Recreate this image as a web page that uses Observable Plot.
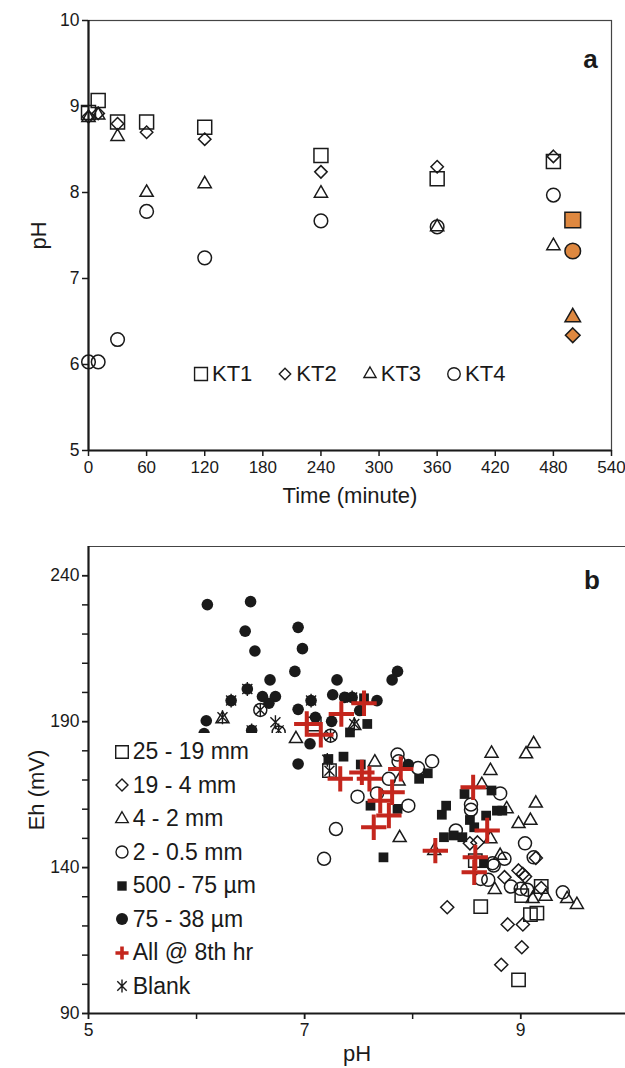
<!DOCTYPE html>
<html>
<head>
<meta charset="utf-8">
<script src="https://cdn.jsdelivr.net/npm/d3@7"></script>
<script src="https://cdn.jsdelivr.net/npm/@observablehq/plot@0.6"></script>
<style>
  html, body { margin: 0; padding: 0; background: #fff; }
  #wrap { position: relative; width: 625px; height: 1068px; overflow: hidden;
          font-family: "Liberation Sans", Arial, sans-serif; color: #1a1a1a; }
  #panelA, #panelB { position: absolute; left: 0; }
  #panelA { top: 0; }
  #panelB { top: 510px; }
  #legA { position: absolute; left: 192px; top: 361px; display: flex; gap: 24px; font-size: 22px; line-height: 26px; }
  #legA .item, #legB .item { display: flex; align-items: center; white-space: nowrap; }
  #legB { position: absolute; left: 100px; top: 733px; width: 188px; height: 270px; background: #fff;
          font-size: 23px; padding-top: 2px; box-sizing: border-box; }
  #legB .item { height: 33.5px; padding-left: 10.7px; }
  svg.sym { overflow: visible; display: block; }
</style>
</head>
<body>
<div id="wrap">
  <div id="panelA"></div>
  <div id="panelB"></div>
  <div id="legA"></div>
  <div id="legB"></div>
</div>
<script>
// ---------------- Panel a data ----------------
const timesA = [0, 10, 30, 60, 120, 240, 360, 480];
const seriesA = ["KT1", "KT2", "KT3", "KT4"];
const pH_KT1 = [8.93, 9.07, 8.82, 8.82, 8.76, 8.43, 8.16, 8.36];
const pH_KT2 = [8.88, 8.92, 8.80, 8.70, 8.62, 8.24, 8.30, 8.42];
const pH_KT3 = [8.87, 8.90, 8.65, 8.00, 8.10, 7.99, 7.60, 7.38];
const pH_KT4 = [6.03, 6.03, 6.29, 7.78, 7.24, 7.67, 7.60, 7.97];
const finalTime = 500;
const finalPH = [7.68, 6.34, 6.55, 7.32]; // KT1..KT4 (orange)
const xTicksA = [0, 60, 120, 180, 240, 300, 360, 420, 480, 540];
const yTicksA = [5, 6, 7, 8, 9, 10];

// ---------------- Panel b data ([pH, Eh mV]) ----------------
const b25_19mm = [[7.09,189.2],[7.23,173.2],[8.58,142.4],[8.63,126.6],[9.01,130.4],[9.19,133.5],[9.09,123.9],[9.15,124.4],[8.98,101.5]];
const b19_4mm = [[8.53,148.3],[8.60,148.6],[8.32,126.4],[8.88,120.5],[9.02,120.5],[9.01,112.7],[8.82,106.7],[8.98,139.0],[9.02,137.8],[9.04,136.9],[8.85,136.7],[9.14,143.3],[9.19,133.0]];
const b4_2mm = [[7.65,176.1],[7.88,150.2],[7.87,169.6],[7.46,188.6],[8.73,179.1],[8.72,173.2],[8.64,168.4],[9.12,182.4],[9.05,178.9],[9.14,162.0],[8.87,160.1],[8.98,155.0],[9.09,156.1],[8.72,149.8],[8.81,144.1],[6.92,184.1],[6.24,190.9],[8.20,145.8],[8.76,132.4],[9.11,129.3],[9.23,130.1],[9.43,129.3],[9.52,127.3]];
const b2_05mm = [[7.86,178.7],[8.18,176.4],[8.05,174.1],[7.78,170.4],[7.67,165.4],[7.49,164.3],[7.96,161.2],[7.29,153.2],[7.18,143.0],[8.81,165.4],[8.54,161.6],[8.54,159.8],[8.40,152.7],[9.04,148.3],[9.12,143.5],[8.85,143.0],[8.75,140.7],[8.74,141.5],[8.63,136.1],[8.70,135.8],[8.91,133.5],[9.00,132.7],[9.06,132.4],[9.39,131.5],[6.59,194.0],[6.76,186.3],[7.24,185.2],[7.87,176.4]];
const b500_75um = [[7.58,189.2],[7.42,186.3],[7.36,178.0],[7.22,177.2],[7.52,175.3],[8.06,170.4],[8.14,172.3],[7.86,160.1],[7.61,161.2],[7.73,143.5],[8.31,161.2],[8.27,158.1],[8.48,165.2],[8.73,166.4],[8.53,156.3],[8.68,157.8],[8.78,159.5],[8.83,159.5],[8.57,153.8],[8.29,150.4],[8.38,151.0],[8.46,150.4],[8.66,141.5],[7.55,198.0]];
const b75_38um = [[6.10,230.1],[6.50,231.1],[6.45,221.0],[6.94,222.3],[6.54,214.2],[6.98,215.0],[6.91,207.2],[6.68,204.3],[7.30,204.3],[6.47,201.2],[6.32,197.2],[6.61,198.6],[6.73,198.6],[6.67,196.3],[7.26,199.2],[7.37,198.3],[7.44,198.3],[7.06,197.2],[6.94,194.2],[6.09,190.3],[6.07,185.9],[7.10,191.5],[7.25,190.1],[7.05,182.4],[6.94,175.5],[7.51,193.8],[7.67,197.2],[7.86,207.2],[7.81,204.3],[7.96,175.3],[6.51,187.0]];
const bAll8hr = [[7.55,196.3],[7.34,192.6],[7.02,189.2],[7.15,185.5],[7.33,170.4],[7.53,172.6],[7.60,170.4],[7.89,173.8],[7.70,162.9],[7.81,165.8],[7.78,157.8],[7.64,153.8],[8.56,167.5],[8.69,152.7],[8.21,145.8],[8.58,143.5],[8.57,138.4]];
const bBlank = [[6.32,197.2],[6.47,201.2],[6.24,191.5],[6.51,187.0],[6.59,194.0],[6.73,189.8],[6.76,187.0],[7.06,197.2],[7.24,185.2],[7.23,173.2],[7.21,176.9],[7.44,198.3],[7.46,189.2]];
const legendB = ["25 - 19 mm", "19 - 4 mm", "4 - 2 mm", "2 - 0.5 mm", "500 - 75 µm", "75 - 38 µm", "All @ 8th hr", "Blank"];
const xTicksBMajor = [5, 7, 9];
const xTicksBMinor = [5, 6, 7, 8, 9];
const yTicksBMajor = [90, 140, 190, 240];
const yTicksBMinor = d3.range(90, 241, 10);

// ---------------- styles ----------------
const INK = "#1a1a1a";
const ORANGE = "#de8840";
const RED = "#c4261d";
const FONT = "'Liberation Sans', Arial, sans-serif";
const fmtInt = d3.format("d");

// "Blank" marker: vertical bar plus an X
const blankSymbol = {
  draw(ctx, size) {
    const r = Math.sqrt(size) * 0.56;
    const a = r * 0.72;
    ctx.moveTo(0, -r); ctx.lineTo(0, r);
    ctx.moveTo(-a, -a); ctx.lineTo(a, a);
    ctx.moveTo(-a, a); ctx.lineTo(a, -a);
  }
};

const symA = [
  {symbol: "square2", r: 8.9},
  {symbol: "diamond2", r: 5.6},
  {symbol: "triangle2", r: 6.3},
  {symbol: "circle", r: 6.8}
];
const symAFinal = [
  {symbol: "square2", r: 10},
  {symbol: "diamond2", r: 6.6},
  {symbol: "triangle2", r: 7.4},
  {symbol: "circle", r: 7.8}
];
const valuesA = [pH_KT1, pH_KT2, pH_KT3, pH_KT4];

const rowsA = seriesA.map((s, i) => timesA.map((t, j) => ({series: s, t, pH: valuesA[i][j]})));
const finalRows = seriesA.map((s, i) => ({series: s, t: finalTime, pH: finalPH[i]}));

const plotA = Plot.plot({
  width: 625, height: 510,
  marginLeft: 88, marginRight: 14, marginTop: 20, marginBottom: 60,
  style: {fontFamily: FONT, fontSize: "17px", color: INK, background: "transparent", overflow: "visible"},
  x: {domain: [0, 540]},
  y: {domain: [5, 10]},
  marks: [
    Plot.frame({stroke: "#444", strokeWidth: 1.2}),
    Plot.ruleX([0], {stroke: INK, strokeWidth: 2.2}),
    Plot.ruleY([5], {stroke: INK, strokeWidth: 2.2}),
    Plot.axisX({ticks: xTicksA, tickFormat: fmtInt, tickSize: 6, tickPadding: 4, fontSize: 17, label: null, strokeWidth: 1.5}),
    Plot.axisY({ticks: yTicksA, tickFormat: fmtInt, tickSize: 6, tickPadding: 3, fontSize: 17.5, label: null, strokeWidth: 1.5}),
    ...rowsA.map((rows, i) => Plot.dot(rows, {x: "t", y: "pH", symbol: symA[i].symbol, r: symA[i].r,
        stroke: INK, strokeWidth: 1.5, fill: "none"})),
    ...finalRows.map((row, i) => Plot.dot([row], {x: "t", y: "pH", symbol: symAFinal[i].symbol, r: symAFinal[i].r,
        stroke: INK, strokeWidth: 1.5, fill: ORANGE})),
    Plot.text(["Time (minute)"], {frameAnchor: "bottom", textAnchor: "middle", lineAnchor: "middle", dy: 45, fontSize: 22, fill: INK}),
    Plot.text(["pH"], {frameAnchor: "left", textAnchor: "middle", lineAnchor: "middle", dx: -50, rotate: -90, fontSize: 22, fill: INK}),
    Plot.text(["a"], {frameAnchor: "top-right", textAnchor: "middle", lineAnchor: "middle", dx: -21, dy: 39, fontSize: 26, fontWeight: "bold", fill: INK})
  ]
});
document.getElementById("panelA").appendChild(plotA);

// ---------------- Panel b ----------------
const toRows = arr => arr.map(([pH, eh]) => ({pH, eh}));
const catsB = [
  {data: b25_19mm, symbol: "square2", r: 8.5, stroke: INK, fill: "none", sw: 1.5},
  {data: b19_4mm, symbol: "diamond2", r: 5.9, stroke: INK, fill: "none", sw: 1.5},
  {data: b4_2mm, symbol: "triangle2", r: 6.2, stroke: INK, fill: "none", sw: 1.5},
  {data: b2_05mm, symbol: "circle", r: 6.5, stroke: INK, fill: "none", sw: 1.5},
  {data: b500_75um, symbol: "square", r: 5.5, stroke: "none", fill: INK, sw: 0},
  {data: b75_38um, symbol: "circle", r: 5.8, stroke: "none", fill: INK, sw: 0},
  {data: bBlank, symbol: blankSymbol, r: 7, stroke: INK, fill: "none", sw: 1.4},
  {data: bAll8hr, symbol: "plus", r: 8.2, stroke: RED, fill: "none", sw: 4}
];

const plotB = Plot.plot({
  width: 625, height: 558,
  marginLeft: 88, marginRight: 0, marginTop: 36, marginBottom: 55,
  style: {fontFamily: FONT, fontSize: "17.5px", color: INK, background: "transparent", overflow: "visible"},
  x: {domain: [5, 9.97]},
  y: {domain: [90, 250]},
  marks: [
    Plot.ruleY([250], {stroke: "#444", strokeWidth: 1.2}),
    Plot.ruleX([5], {stroke: INK, strokeWidth: 2.2}),
    Plot.ruleY([90], {stroke: INK, strokeWidth: 2.2}),
    Plot.axisX({ticks: xTicksBMinor, tickSize: 6, tickFormat: () => "", label: null, strokeWidth: 1.5}),
    Plot.axisX({ticks: xTicksBMajor, tickFormat: fmtInt, tickSize: 6, tickPadding: 4, fontSize: 17.5, label: null, strokeWidth: 1.5}),
    Plot.axisY({ticks: yTicksBMinor, tickSize: 6, tickFormat: () => "", label: null, strokeWidth: 1.5}),
    Plot.axisY({ticks: yTicksBMajor, tickFormat: fmtInt, tickSize: 6, tickPadding: 3, fontSize: 17.5, label: null, strokeWidth: 1.5}),
    ...catsB.map(c => Plot.dot(toRows(c.data), {x: "pH", y: "eh", symbol: c.symbol, r: c.r,
        stroke: c.stroke, fill: c.fill, strokeWidth: c.sw})),
    Plot.text(["pH"], {frameAnchor: "bottom", textAnchor: "middle", lineAnchor: "middle", dy: 40, fontSize: 22, fill: INK}),
    Plot.text(["Eh (mV)"], {frameAnchor: "left", textAnchor: "middle", lineAnchor: "middle", dx: -52, dy: 10, rotate: -90, fontSize: 22, fill: INK}),
    Plot.text(["b"], {frameAnchor: "top-right", textAnchor: "middle", lineAnchor: "middle", dx: -33.5, dy: 34, fontSize: 26, fontWeight: "bold", fill: INK})
  ]
});
document.getElementById("panelB").appendChild(plotB);

// ---------------- Legends (HTML with d3 symbols) ----------------
const d3sym = {
  square2: d3.symbolSquare2, diamond2: d3.symbolDiamond2, triangle2: d3.symbolTriangle2,
  circle: d3.symbolCircle, square: d3.symbolSquare, plus: d3.symbolPlus, blank: blankSymbol
};
function symSvg(symbol, r, stroke, fill, sw, w) {
  const path = d3.symbol(d3sym[symbol], Math.PI * r * r)();
  const ns = "http://www.w3.org/2000/svg";
  const svg = document.createElementNS(ns, "svg");
  svg.setAttribute("class", "sym");
  svg.setAttribute("width", w); svg.setAttribute("height", 20);
  const p = document.createElementNS(ns, "path");
  p.setAttribute("d", path);
  p.setAttribute("transform", `translate(${w / 2},10)`);
  p.setAttribute("stroke", stroke); p.setAttribute("fill", fill); p.setAttribute("stroke-width", sw);
  svg.appendChild(p);
  return svg;
}
const legA = document.getElementById("legA");
seriesA.forEach((s, i) => {
  const it = document.createElement("div"); it.className = "item";
  it.appendChild(symSvg(symA[i].symbol, symA[i].r * 0.92, INK, "none", 1.4, 18));
  const t = document.createElement("span"); t.textContent = s; t.style.marginLeft = "2px";
  it.appendChild(t); legA.appendChild(it);
});
const legSymB = [
  {symbol: "square2", r: 8.0, stroke: INK, fill: "none", sw: 1.4},
  {symbol: "diamond2", r: 5.4, stroke: INK, fill: "none", sw: 1.4},
  {symbol: "triangle2", r: 6.0, stroke: INK, fill: "none", sw: 1.4},
  {symbol: "circle", r: 6.0, stroke: INK, fill: "none", sw: 1.4},
  {symbol: "square", r: 5.3, stroke: "none", fill: INK, sw: 0},
  {symbol: "circle", r: 6.0, stroke: "none", fill: INK, sw: 0},
  {symbol: "plus", r: 4.3, stroke: RED, fill: "none", sw: 3.6},
  {symbol: "blank", r: 6.6, stroke: INK, fill: "none", sw: 1.4}
];
const legB = document.getElementById("legB");
legendB.forEach((label, i) => {
  const it = document.createElement("div"); it.className = "item";
  const s = legSymB[i];
  it.appendChild(symSvg(s.symbol, s.r, s.stroke, s.fill, s.sw, 22));
  const t = document.createElement("span"); t.textContent = label;
  it.appendChild(t); legB.appendChild(it);
});
</script>
</body>
</html>
